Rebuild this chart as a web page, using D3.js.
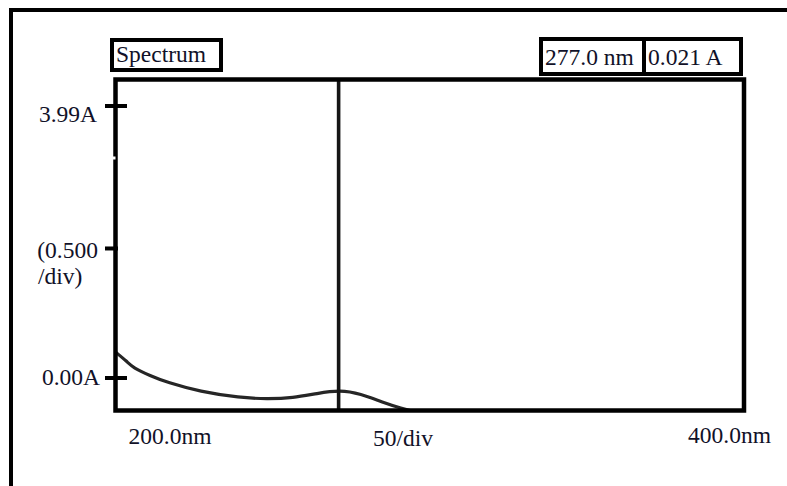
<!DOCTYPE html>
<html><head><meta charset="utf-8">
<script src="https://cdn.jsdelivr.net/npm/d3@7"></script>
<style>html,body{margin:0;padding:0;background:#fff;}svg{display:block;}</style>
</head><body>
<script>
// ---- data ----
const wavelengths = [200.0, 203.7, 205.6, 211.0, 216.4, 226.9, 239.6, 248.2, 256.5, 264.2, 271.5, 277.9, 285.2, 290.6, 297.0, 306.4, 354.0, 400.0];
const absorbance  = [0.381, 0.240, 0.150, 0.035, -0.065, -0.200, -0.290, -0.308, -0.293, -0.225, -0.176, -0.230, -0.360, -0.440, -0.52, -0.55, -0.56, -0.56];
const xDomain = [200, 400];
const xTickValues = [200, 400];
const xTickLabels = ["200.0nm", "400.0nm"];
const xDivLabel = "50/div";
const yTickValues = [3.99, 1.9, 0.0];
const yTickLabels = [["3.99A"], ["(0.500", "/div)"], ["0.00A"]];
const cursorNm = 271.0;
const titleText = "Spectrum";
const readoutNm = "277.0 nm";
const readoutA = "0.021 A";

// ---- layout ----
const W = 787, H = 486;
const plot = {l: 115.5, r: 744, t: 79.5, b: 410.5};
const ink = "#111128";
const font = "'Liberation Serif', 'Times New Roman', serif";

const svg = d3.select("body").append("svg").attr("width", W).attr("height", H);
svg.append("rect").attr("width", W).attr("height", H).attr("fill", "#fff");

const x = d3.scaleLinear().domain(xDomain).range([plot.l, plot.r]);
const y = d3.scaleLinear().domain([0, 3.99]).range([378, 106]);

// outer frame
svg.append("path").attr("d", `M11,486 L11,10 L787,10`).attr("fill", "none")
  .attr("stroke", "#000").attr("stroke-width", 4);

// clip
svg.append("clipPath").attr("id", "pc").append("rect")
  .attr("x", plot.l).attr("y", plot.t).attr("width", plot.r - plot.l).attr("height", plot.b - plot.t);

const data = wavelengths.map((w, i) => ({w, a: absorbance[i]}));
const line = d3.line().x(d => x(d.w)).y(d => y(d.a)).curve(d3.curveBasis);
svg.append("path").datum(data).attr("d", line).attr("clip-path", "url(#pc)")
  .attr("fill", "none").attr("stroke", "#262626").attr("stroke-width", 3.2);

// cursor line
svg.append("line").attr("x1", x(cursorNm)).attr("x2", x(cursorNm))
  .attr("y1", plot.t).attr("y2", plot.b).attr("stroke", "#151515").attr("stroke-width", 3.6);

// plot frame
svg.append("rect").attr("x", plot.l).attr("y", plot.t).attr("width", plot.r - plot.l).attr("height", plot.b - plot.t)
  .attr("fill", "none").attr("stroke", "#000").attr("stroke-width", 4.5);

// small notches on the left axis
svg.append("rect").attr("x", 112.5).attr("y", 156.5).attr("width", 3).attr("height", 3).attr("fill", "#fff");

// y ticks
yTickValues.forEach((v, i) => {
  const yy = y(v);
  const inner = i === 1 ? 118 : 127;
  svg.append("line").attr("x1", 105).attr("x2", inner).attr("y1", yy).attr("y2", yy)
    .attr("stroke", "#000").attr("stroke-width", 4);
});
// y labels
const yl = svg.append("g").attr("font-family", font).attr("font-size", 23.5).attr("fill", ink);
yl.append("text").attr("x", 97).attr("y", y(yTickValues[0]) + 16).attr("text-anchor", "end").text(yTickLabels[0][0]);
yl.append("text").attr("x", 98).attr("y", y(yTickValues[1]) + 10).attr("text-anchor", "end").text(yTickLabels[1][0]);
yl.append("text").attr("x", 38).attr("y", y(yTickValues[1]) + 36).attr("text-anchor", "start").text(yTickLabels[1][1]);
yl.append("text").attr("x", 100).attr("y", y(yTickValues[2]) + 7).attr("text-anchor", "end").text(yTickLabels[2][0]);

// x labels
const xl = svg.append("g").attr("font-family", font).attr("font-size", 23.5).attr("fill", ink);
xl.append("text").attr("x", x(xTickValues[0]) + 13).attr("y", 444).attr("text-anchor", "start").text(xTickLabels[0]);
xl.append("text").attr("x", x(xTickValues[1]) + 27).attr("y", 443).attr("text-anchor", "end").text(xTickLabels[1]);
xl.append("text").attr("x", 373).attr("y", 446).attr("text-anchor", "start").text(xDivLabel);

// title box
svg.append("rect").attr("x", 112).attr("y", 40).attr("width", 109).attr("height", 30)
  .attr("fill", "#fff").attr("stroke", "#000").attr("stroke-width", 4);
svg.append("text").attr("x", 116).attr("y", 62).attr("font-family", font).attr("font-size", 23.5)
  .attr("fill", ink).text(titleText);

// readout boxes
svg.append("rect").attr("x", 541).attr("y", 39).attr("width", 103).attr("height", 35)
  .attr("fill", "#fff").attr("stroke", "#000").attr("stroke-width", 4);
svg.append("rect").attr("x", 644).attr("y", 39).attr("width", 97).attr("height", 35)
  .attr("fill", "#fff").attr("stroke", "#000").attr("stroke-width", 4);
svg.append("text").attr("x", 545).attr("y", 65).attr("font-family", font).attr("font-size", 23.5)
  .attr("fill", ink).text(readoutNm);
svg.append("text").attr("x", 648).attr("y", 65).attr("font-family", font).attr("font-size", 23.5)
  .attr("fill", ink).attr("xml:space", "preserve").text(readoutA);
</script>
</body></html>
